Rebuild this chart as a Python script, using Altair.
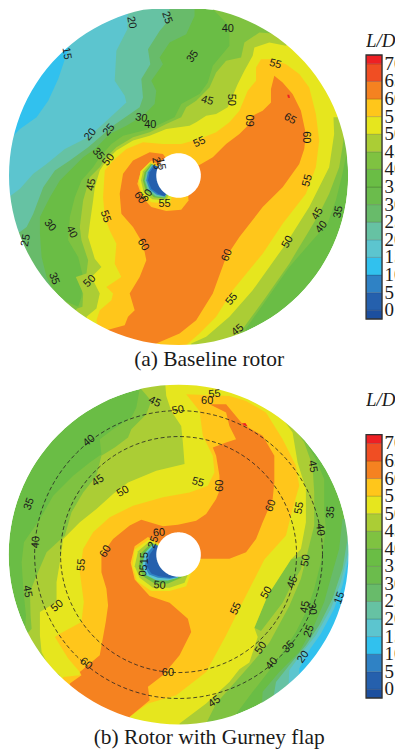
import math
import altair as alt

# ---- L/D colour levels -------------------------------------------------
LEVEL_NAMES = ["n", "0", "5", "10", "15", "20", "25", "30", "35", "40", "45", "50", "55", "60", "65", "70"]
LEVEL_COLORS = ["#1c4f9f", "#2560ad", "#2f82c5", "#31c1ee", "#5cc5cf", "#66c2a3", "#68bb6a", "#6bbc4c",
                "#6abd45", "#7fc241", "#abcd35", "#e6e61e", "#ffc61b", "#f58220", "#f04e23", "#ee2024"]
BAR_LOW = [-2.5, 0, 5, 10, 15, 20, 25, 30, 35, 40, 45, 50, 55, 60, 65, 70]
BAR_HIGH = [0, 5, 10, 15, 20, 25, 30, 35, 40, 45, 50, 55, 60, 65, 70, 72.5]
TICKS = [70, 65, 60, 55, 50, 45, 40, 35, 30, 25, 20, 15, 10, 5, 0]

# ---- Contours of the baseline rotor --------------------------------------
A_CENTER = (537, 525); A_R = 510; A_HUB = 67
A_POLY = [
 ("25", [(585,-20),(585,45),(560,100),(510,125),(480,170),(490,190),(455,240),(470,270),(465,310),(430,345),(380,375),(330,400),(285,445),(250,470),(210,510),(180,540),(150,590),(120,650),(120,700),(125,770),(140,830),(175,900),(-20,900),(-20,-20)]),
 ("20", [(510,-20),(505,60),(480,90),(445,145),(452,190),(425,235),(430,290),(420,320),(340,375),(300,410),(265,440),(210,480),(165,510),(130,560),(100,640),(80,680),(60,695),(-20,700),(-20,-20)]),
 ("15", [(385,-20),(383,85),(350,150),(345,240),(375,285),(380,305),(310,370),(265,410),(195,445),(140,490),(100,520),(60,565),(20,590),(-20,600),(-20,-20)]),
 ("10", [(205,-20),(205,150),(195,175),(175,235),(145,300),(110,350),(60,385),(20,420),(-20,420),(-20,-20)]),
 ("40", [(640,-20),(640,25),(690,75),(690,135),(640,195),(625,245),(600,280),(545,310),(525,350),(450,385),(370,405),(335,430),(300,470),(280,500),(245,540),(225,590),(210,650),(205,720),(235,770),(250,830),(245,890),(235,920),(190,900),(160,960),(400,1100),(720,1100),(740,985),(800,900),(870,800),(940,720),(985,670),(1010,600),(1030,520),(1040,470),(1100,470),(1100,-20)]),
 ("45", [(850,-20),(850,100),(780,95),(735,125),(725,170),(680,180),(650,215),(630,260),(590,300),(560,320),(545,350),(500,370),(450,395),(400,410),(350,440),(320,470),(300,500),(270,530),(250,600),(240,680),(245,720),(265,780),(260,820),(228,830),(250,880),(248,920),(232,925),(200,960),(300,1100),(690,1100),(720,1000),(800,890),(870,790),(930,690),(960,640),(990,580),(1020,500),(1030,440),(1035,400),(1100,400),(1100,-20)]),
 ("50", [(760,165),(765,140),(810,125),(860,135),(890,100),(1100,150),(1100,350),(1003,350),(1005,400),(990,500),(930,620),(860,730),(760,870),(690,950),(620,1010),(575,1030),(575,1100),(300,1100),(260,950),(290,925),(300,880),(275,830),(305,800),(285,775),(265,710),(270,670),(280,600),(285,560),(300,510),(320,480),(350,450),(400,420),(450,405),(500,385),(570,375),(590,365),(620,345),(650,340),(685,320),(715,250),(735,210)]),
 ("55", [(785,175),(770,200),(770,240),(745,270),(720,330),(690,365),(650,395),(600,415),(545,430),(490,430),(430,425),(380,445),(340,480),(315,510),(310,590),(315,650),(330,690),(350,730),(345,790),(365,830),(320,860),(340,880),(335,900),(300,930),(290,960),(320,1100),(540,1100),(560,1035),(600,1000),(650,950),(700,870),(790,760),(850,670),(920,580),(950,500),(960,420),(950,340),(930,260),(900,220),(860,190),(820,175)]),
 ("60", [(825,225),(815,265),(815,305),(790,330),(760,345),(745,375),(720,400),(680,430),(640,470),(605,490),(537,525),(490,460),(450,455),(400,480),(370,520),(360,580),(365,640),(400,680),(430,730),(440,780),(420,830),(390,880),(405,930),(385,950),(375,975),(320,990),(320,1100),(470,1100),(470,1030),(540,1000),(590,960),(640,880),(680,770),(720,710),(790,620),(850,560),(900,490),(915,445),(920,400),(905,330),(880,280),(850,245)]),
 ("70", [(864,282),(870,282),(872,292),(866,291)]),
 ("55", [(455,480),(425,510),(413,550),(428,590),(455,620),(500,632),(545,628),(567,600),(565,575),(537,525)]),
 ("50", [(450,486),(423,512),(417,540),(426,580),(455,605),(510,610),(537,525)]),
 ("45", [(452,488),(430,512),(424,540),(432,575),(458,596),(500,600),(537,525)]),
 ("35", [(455,490),(435,515),(430,540),(438,570),(463,590),(495,595),(537,525)]),
 ("20", [(457,492),(440,515),(435,540),(444,568),(468,587),(495,591),(537,525)]),
 ("5",  [(460,493),(445,515),(440,540),(450,567),(472,583),(495,588),(537,525)]),
 ("0",  [(465,495),(450,515),(445,540),(455,565),(475,580),(495,587),(537,525)]),
]
A_TEXT = ["20","25","40","15","35","55","45","50","60","65","60","30","40","25","20","55","35","50","45","55","60","50","55","25","15","30","40","55","25","60","60","50","45","40","35","35","50","55","45"]
A_X = [395,502,685,200,580,828,623,695,755,872,920,425,452,328,272,600,295,327,275,925,420,442,495,470,483,150,215,317,78,430,683,865,955,967,1018,162,270,697,715]
A_Y = [65,50,85,158,167,190,300,297,360,355,410,352,372,388,402,425,460,478,553,540,592,585,612,488,490,675,695,648,720,733,765,725,640,680,635,835,843,897,990]
A_ANG = [80,70,0,80,305,15,15,90,270,30,90,10,0,310,310,335,50,310,280,285,55,305,0,80,80,50,65,70,280,60,290,300,300,310,280,70,315,310,320]

# ---- Contours of the rotor with Gurney flap ------------------------------
B_CENTER = (537, 537); B_R = 511; B_HUB = 67
B_RINGS = [433, 355]
B_POLY = [
 ("25", [(1030,430),(1020,520),(1000,590),(975,680),(945,750),(900,830),(840,890),(790,950),(780,1100),(1100,1100),(1100,430)]),
 ("20", [(1047,480),(1030,580),(1000,670),(960,750),(920,810),(870,870),(830,920),(800,1100),(1100,1100),(1100,480)]),
 ("15", [(1047,530),(1025,620),(995,700),(950,780),(910,830),(870,885),(860,1100),(1100,1100),(1100,530)]),
 ("10", [(1047,555),(1030,630),(1005,700),(965,775),(930,825),(900,880),(900,1100),(1100,1100),(1100,555)]),
 ("40", [(420,-20),(420,40),(410,95),(395,125),(340,160),(300,190),(305,235),(270,260),(220,300),(160,360),(120,430),(72,500),(65,560),(70,640),(78,720),(75,760),(40,800),(60,1100),(700,1100),(700,1030),(760,950),(830,860),(890,770),(925,700),(945,640),(965,560),(980,460),(975,400),(975,310),(950,250),(915,190),(1000,100),(900,-20)]),
 ("45", [(425,-20),(425,40),(455,75),(440,115),(395,160),(385,185),(345,215),(305,240),(290,300),(250,350),(215,410),(195,480),(140,530),(110,600),(90,650),(92,720),(95,760),(60,800),(100,1100),(620,1100),(620,1045),(650,985),(750,872),(810,802),(870,692),(905,610),(925,530),(945,450),(945,350),(940,270),(915,200),(890,165),(900,-20)]),
 ("40", [(785,767),(850,682),(880,622),(905,582),(915,540),(875,552),(805,660),(765,757)]),
 ("50", [(495,-20),(500,60),(515,105),(545,150),(550,200),(555,265),(470,285),(385,320),(340,355),(290,400),(240,440),(190,490),(180,560),(170,620),(170,680),(120,710),(120,780),(125,830),(150,880),(180,900),(160,1100),(540,1100),(540,1045),(620,985),(690,920),(720,882),(750,862),(775,785),(765,757),(805,660),(875,552),(905,520),(920,440),(920,340),(895,260),(880,170),(830,100),(800,-20)]),
 ("55", [(560,55),(600,105),(610,180),(640,240),(645,290),(625,330),(570,350),(490,365),(400,390),(330,425),(280,470),(250,520),(240,590),(252,680),(245,740),(180,775),(165,785),(205,850),(240,890),(240,900),(190,905),(170,1000),(400,1100),(390,1025),(445,985),(530,960),(620,890),(680,780),(730,680),(795,552),(860,480),(880,400),(900,330),(890,270),(850,190),(800,110),(740,75),(690,60)]),
 ("60", [(630,85),(680,85),(730,145),(790,180),(825,240),(825,320),(820,370),(790,440),(770,490),(740,530),(690,550),(605,550),(537,537),(445,484),(405,512),(393,562),(405,612),(450,662),(510,682),(565,730),(575,770),(540,840),(490,900),(445,935),(450,975),(390,1025),(390,1100),(200,1100),(210,925),(245,900),(240,890),(300,840),(318,740),(325,690),(320,640),(305,590),(305,540),(340,490),(390,450),(425,432),(490,452),(535,447),(590,435),(620,415),(650,370),(660,345),(660,300),(650,240),(640,215),(680,200),(710,190),(690,150),(680,110)]),
 ("70", [(727,143),(738,141),(745,152),(735,149)]),
 ("50", [(448,492),(405,522),(398,572),(412,617),(455,647),(510,647),(560,632),(575,592),(537,537)]),
 ("45", [(450,497),(415,527),(405,572),(420,607),(460,637),(510,637),(555,622),(565,597),(537,537)]),
 ("35", [(455,502),(425,532),(417,572),(430,602),(465,624),(505,624),(545,607),(555,592),(537,537)]),
 ("15", [(460,507),(435,532),(428,572),(440,599),(470,614),(505,615),(535,607),(537,537)]),
 ("5",  [(465,507),(443,532),(435,572),(448,597),(475,607),(510,610),(535,605),(537,537)]),
 ("0",  [(470,510),(450,537),(442,572),(455,594),(478,602),(510,607),(537,602),(537,537)]),
]
B_TEXT = ["55","60","45","50","40","45","45","55","60","50","35","60","55","35","40","40","60","25","60","55","50","45","15","45","50","15","05","50","50","55","45","30","25","50","35","20","40","60","60","45"]
B_X = [645,623,465,535,268,940,295,595,663,370,88,815,900,995,962,108,478,462,318,245,920,82,1022,880,802,437,432,480,172,710,918,938,930,785,868,912,818,258,505,645]
B_Y = [55,75,78,103,195,272,315,320,330,348,385,390,397,410,462,500,472,500,528,568,555,648,668,620,652,548,585,630,692,700,695,700,768,818,815,845,865,865,893,980]
B_ANG = [355,0,25,350,320,80,325,15,270,330,290,290,280,275,85,275,355,290,300,275,280,80,290,290,300,270,275,5,320,295,280,85,290,305,315,305,310,40,0,325]


def feature(level, rings):
    return {"type": "Feature", "properties": {"level": level},
            "geometry": {"type": "Polygon", "coordinates": rings}}


def circle(c, rad, reverse=False):
    pts = [[c[0] + rad * math.cos(math.radians(a)), c[1] + rad * math.sin(math.radians(a))] for a in range(0, 361, 3)]
    return pts[::-1] if reverse else pts


def disc(poly, c, r, hub, top, bottom, text, xs, ys, ang, caption, cap_y, rings=()):
    # the panel's frame; three units of the traced outlines are one pixel
    left, right = 24, 1074

    def rotor(p, inset=0):
        x = min(max(p[0], left + inset), right - inset)
        y = min(max(p[1], top), bottom - inset)
        return [(x - c[0]) / r, -(y - c[1]) / r]

    def ring(pts, inset=0):
        out = [rotor(p, inset) for p in pts]
        return out + [out[0]]

    frame = ring([(left, top), (right, top), (right, bottom), (left, bottom)])
    feats = [feature("35", [ring(circle(c, r), 2)])] + [feature(level, [ring(pts, 2)]) for level, pts in poly]
    shapes = alt.Chart(alt.Data(values=feats)).mark_geoshape(stroke=None, strokeWidth=0).encode(
        color=alt.Color("properties.level:N", scale=alt.Scale(domain=LEVEL_NAMES, range=LEVEL_COLORS), legend=None))
    mask = alt.Chart(alt.Data(values=[
        feature("w", [frame, ring(circle(c, r, True))]),
        feature("w", [ring(circle(c, hub))])])).mark_geoshape(fill="white", stroke=None, strokeWidth=0)
    layers = [shapes, mask]
    if rings:
        lines = [feature("d", [ring(circle(c, q))]) for q in rings]
        layers.append(alt.Chart(alt.Data(values=lines)).mark_geoshape(
            filled=False, stroke="#222222", strokeWidth=0.8, strokeDash=[4, 2.5]))
    rows = [{"t": t, "x": rotor((x, y))[0], "y": rotor((x, y))[1], "a": a} for t, x, y, a in zip(text, xs, ys, ang)]
    layers.append(alt.Chart(alt.Data(values=rows)).mark_text(
        font="Liberation Sans", fontSize=11, color="#1a1a1a").encode(
        longitude="x:Q", latitude="y:Q", text="t:N", angle=alt.Angle("a:Q", scale=None)))
    cap = rotor((c[0] + 92, cap_y))
    layers.append(alt.Chart(alt.Data(values=[{"t": caption, "x": cap[0], "y": cap[1]}])).mark_text(
        font="Liberation Serif", fontSize=21.5, color="#1a1a1a", clip=True).encode(
        longitude="x:Q", latitude="y:Q", text="t:N"))
    return alt.layer(*layers).project(type="identity", reflectY=True).properties(
        width=350, height=round((bottom - top) / 3))


def colorbar(height, v_top, v_bot, v_title):
    y_scale = alt.Scale(domain=[v_bot, v_top], range=[height, 0], nice=False, zero=False)
    x_scale = alt.Scale(domain=[0, 29], range=[0, 29], nice=False, zero=False)
    bands = alt.Data(values=[{"lo": a, "hi": b, "k": k, "x0": 0, "x1": 16}
                             for a, b, k in zip(BAR_LOW, BAR_HIGH, LEVEL_NAMES)])
    rects = alt.Chart(bands).mark_rect(stroke="#000000", strokeOpacity=0.15, strokeWidth=1).encode(
        x=alt.X("x0:Q", scale=x_scale, axis=None), x2="x1:Q",
        y=alt.Y("lo:Q", scale=y_scale, axis=None), y2="hi:Q",
        color=alt.Color("k:N", scale=alt.Scale(domain=LEVEL_NAMES, range=LEVEL_COLORS), legend=None))
    frame = alt.Chart(alt.Data(values=[{"lo": BAR_LOW[0], "hi": BAR_HIGH[-1], "x0": 0, "x1": 16}])).mark_rect(
        fill=None, stroke="#333333", strokeWidth=1.3).encode(
        x=alt.X("x0:Q", scale=x_scale, axis=None), x2="x1:Q",
        y=alt.Y("lo:Q", scale=y_scale, axis=None), y2="hi:Q")
    nums = alt.Chart(alt.Data(values=[{"v": v, "t": str(v), "x": 18.5} for v in TICKS])).mark_text(
        font="Liberation Serif", fontSize=19, align="left", color="#1a1a1a", clip=True).encode(
        x=alt.X("x:Q", scale=x_scale, axis=None), y=alt.Y("v:Q", scale=y_scale, axis=None), text="t:N")
    title = alt.Chart(alt.Data(values=[{"v": v_title, "t": "L/D", "x": 0}])).mark_text(
        font="Liberation Serif", fontSize=19, fontStyle="italic", align="left", color="#1a1a1a", clip=True).encode(
        x=alt.X("x:Q", scale=x_scale, axis=None), y=alt.Y("v:Q", scale=y_scale, axis=None), text="t:N")
    return alt.layer(rects, frame, nums, title).properties(width=29, height=height)


top_disc = disc(A_POLY, A_CENTER, A_R, A_HUB, 24, 1128, A_TEXT, A_X, A_Y, A_ANG, "(a) Baseline rotor", 1080)
bot_disc = disc(B_POLY, B_CENTER, B_R, B_HUB, 0, 1128, B_TEXT, B_X, B_Y, B_ANG, "(b) Rotor with Gurney flap", 1090, B_RINGS)
top_bar = colorbar(368, 85.58, -18.7, 76.5)
bot_bar = colorbar(376, 89.2, -17.6, 82.5)

row1 = alt.hconcat(top_disc, top_bar, spacing=8)
row2 = alt.hconcat(bot_disc, bot_bar, spacing=8)
chart = alt.vconcat(row1, row2, spacing=0).properties(padding=0).configure_view(stroke=None)

chart.save("out.html", embed_options={"renderer": "svg", "actions": False})
